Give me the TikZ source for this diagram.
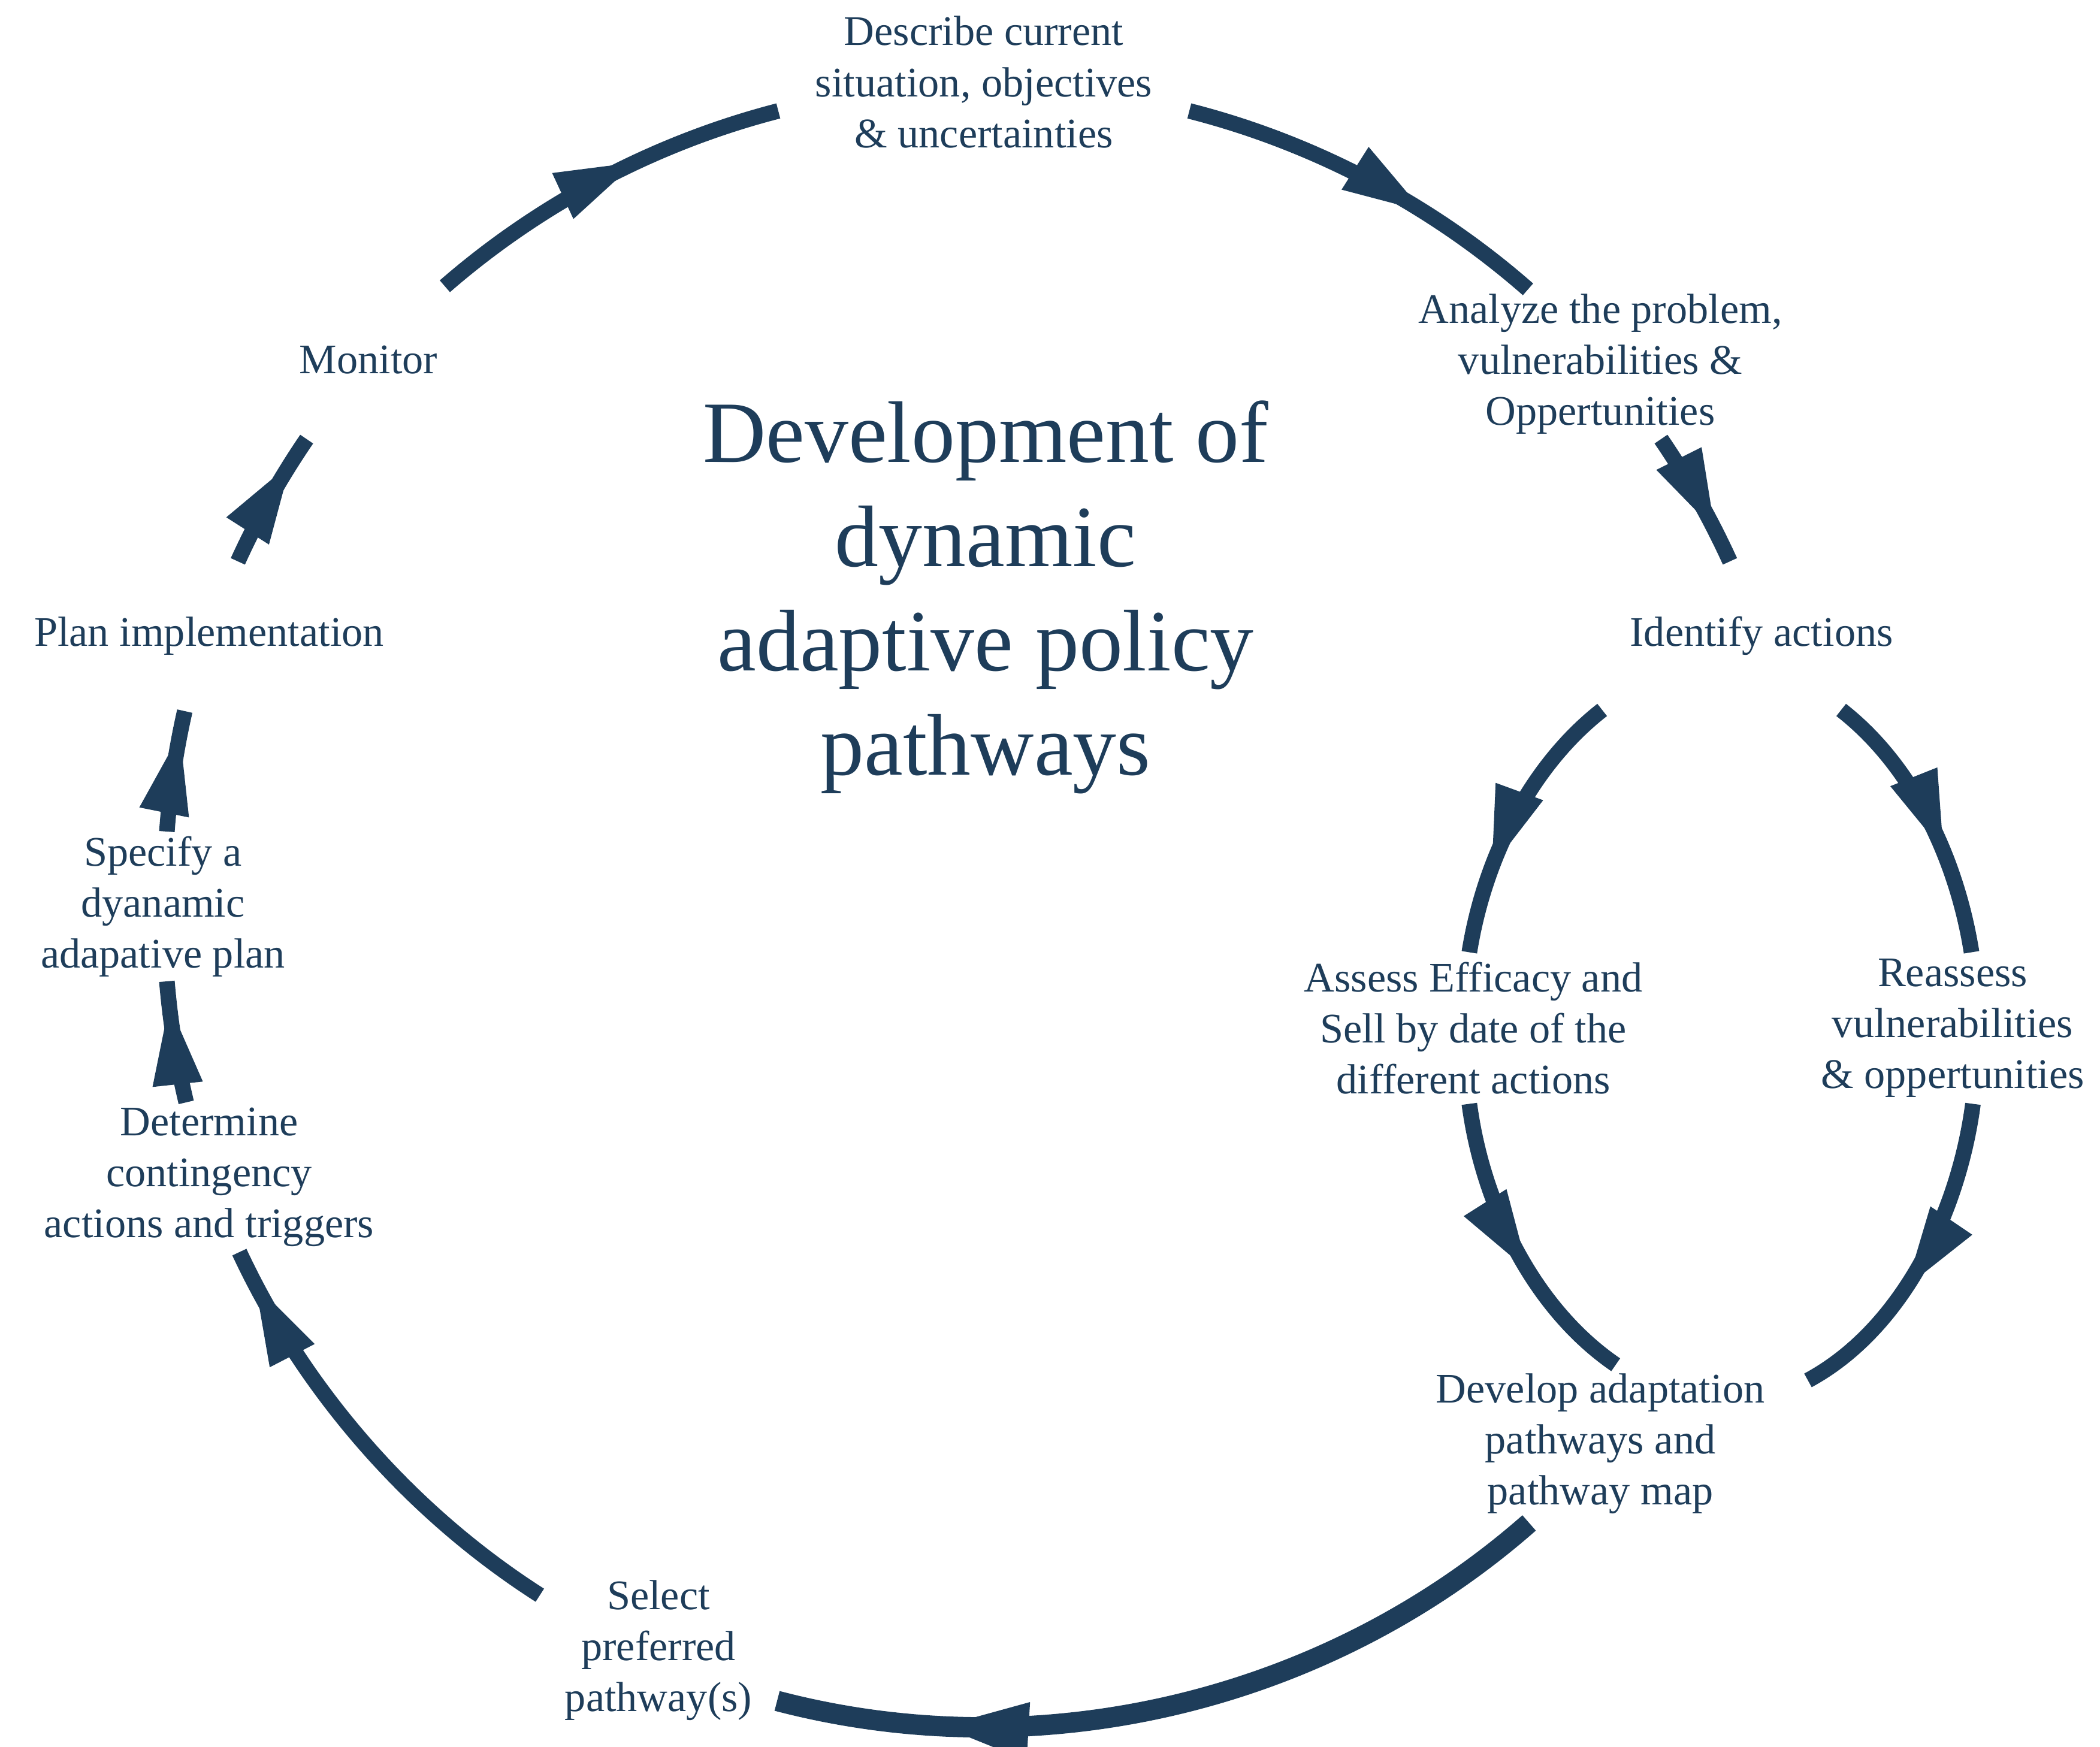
\documentclass[tikz,border=0pt]{standalone}
\usepackage{fontspec}
\setmainfont{Liberation Serif}
\usepackage{xcolor}
\usepackage{tikz}
\usetikzlibrary{arrows.meta,decorations.markings}

\definecolor{pathnavy}{RGB}{30,61,90}

\tikzset{
  stagebox/.style 2 args={text=pathnavy, align=center, inner sep=0pt, outer sep=0pt,
    minimum width=#1, minimum height=#2, font=\fontsize{20}{24.2}\selectfont},
  cyc/.style={color=pathnavy, line width=0.26cm, looseness=0.86,
    >={Triangle[length=1.4cm,width=0.76cm]},
    postaction={decorate},
    decoration={markings, mark=at position #1 with {\arrow{>}}}},
}

\begin{document}
\begin{tikzpicture}
    \useasboundingbox (0,0) rectangle (35.05,29.15);

    \node[text=pathnavy, align=center, inner sep=0pt, anchor=north,
      font=\fontsize{41.5}{49.5}\selectfont] (title) at (16.45,22.47)
      {Development of\\dynamic\\adaptive policy\\pathways};

    \node[stagebox={6.86cm}{2.53cm}] (describe) at (16.42,27.78) {Describe current\\situation, objectives\\\& uncertainties};
    \node[stagebox={6.48cm}{2.50cm}] (analyze) at (26.71,23.07) {Analyze the problem,\\vulnerabilities \&\\Oppertunities};
    \node[stagebox={5.81cm}{2.48cm}] (identify) at (29.40,18.54) {Identify actions};
    \node[stagebox={6.04cm}{2.53cm}] (assess) at (24.59,11.99) {Assess Efficacy and\\Sell by date of the\\different actions};
    \node[stagebox={4.69cm}{2.53cm}] (reassess) at (32.59,11.99) {Reassess\\vulnerabilities\\\& oppertunities};
    \node[stagebox={6.93cm}{2.64cm}] (develop) at (26.71,5.05) {Develop adaptation\\pathways and\\pathway map};
    \node[stagebox={3.96cm}{2.79cm}] (select) at (10.99,1.60) {Select\\preferred\\pathway(s)};
    \node[stagebox={6.04cm}{2.50cm}] (determine) at (3.49,9.50) {Determine\\contingency\\actions and triggers};
    \node[stagebox={4.69cm}{2.50cm}] (specify) at (2.72,14.02) {Specify a\\dyanamic\\adapative plan};
    \node[stagebox={6.26cm}{2.50cm}] (plan) at (3.49,18.53) {Plan implementation};
    \node[stagebox={2.55cm}{2.64cm}] (monitor) at (6.15,23.14) {Monitor};

    \draw[cyc=0.67] (describe.-8) to[bend left=13.5] (analyze.134);
    \draw[cyc=0.78] (analyze.-51.8) to[bend left=4.9] (identify.113.4);
    \draw[cyc=0.70] (identify.205) to[out=218,in=81] (assess.93);
    \draw[cyc=0.64] (identify.-43.7) to[out=-38,in=99] (reassess.76.1);
    \draw[cyc=0.59] (assess.-93) to[out=-82.5,in=145.6] (develop.79.4);
    \draw[cyc=0.60] (reassess.-75.1) to[out=-97.5,in=28.4] (develop.17.5);
    \draw[cyc=0.80, line width=0.34cm, looseness=0.9, >={Triangle[length=1.55cm,width=0.86cm]}]
      (develop.228.1) to[bend left=28] (select.-23.5);
    \draw[cyc=0.93] (select.155.9) to[bend left=16.2] (determine.-68.6);
    \draw[cyc=0.84] (determine.107.8) to[bend left=4.3] (specify.-87.4);
    \draw[cyc=0.84] (specify.87.4) to[bend left=4.3] (plan.252.2);
    \draw[cyc=0.82] (plan.69.4) to[bend left=4.9] (monitor.232.1);
    \draw[cyc=0.61] (monitor.44) to[bend left=13.3] (describe.188);
\end{tikzpicture}
\end{document}
